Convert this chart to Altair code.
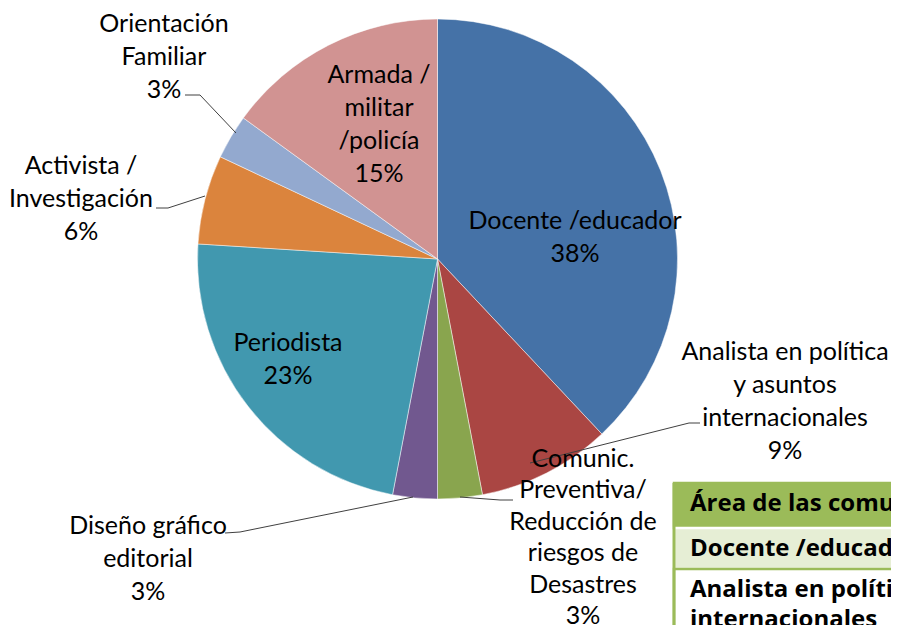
import altair as alt
import pandas as pd

# ---- data ----
categories = [
    "Docente /educador",
    "Analista en política y asuntos internacionales",
    "Comunic. Preventiva/ Reducción de riesgos de Desastres",
    "Diseño gráfico editorial",
    "Periodista",
    "Activista / Investigación",
    "Orientación Familiar",
    "Armada / militar /policía",
]
values = [38, 9, 3, 3, 23, 6, 3, 15]
label_lines = [
    ["Docente /educador"],
    ["Analista en política", "y asuntos", "internacionales"],
    ["Comunic.", "Preventiva/", "Reducción de", "riesgos de", "Desastres"],
    ["Diseño gráfico", "editorial"],
    ["Periodista"],
    ["Activista /", "Investigación"],
    ["Orientación", "Familiar"],
    ["Armada /", "militar", "/policía"],
]
colors = ["#4572A7", "#AA4643", "#89A54E", "#71588F", "#4198AF", "#DB843D", "#93A9CF", "#D19392"]

table_header = "Área de las comunicaciones"
table_rows = ["Docente /educador", "Analista en política y asuntos\ninternacionales"]

# ---- layout (pixels within the chart; page margin is 8px) ----
W, H = 883, 617
CX, CY, R = 429.5, 251, 240
label_x = [567, 777, 575, 140, 280, 73, 156, 371]
label_y = [213, 344, 451, 518, 335, 158, 16, 67]   # centre of first line
label_lh = [33, 33, 31.4, 33, 33, 33, 33, 33]
leaders = [
    [(177, 87), (192, 87), (228, 125)],
    [(148, 200), (160, 200), (197, 188)],
    [(217, 525), (232, 524), (405, 489)],
    [(505, 492), (492, 492), (452, 489)],
    [(692, 415), (681, 415), (522, 455)],
]
FONT = "Lato"
FS = 25

pie_df = pd.DataFrame({"cat": categories, "value": values, "idx": list(range(len(values)))})

lab_df = pd.DataFrame({
    "text": ["\n".join(l + [f"{v}%"]) for l, v in zip(label_lines, values)],
    "x": label_x,
    "y": label_y,
    "lh": label_lh,
})

lead_rows = []
for gi, pts in enumerate(leaders):
    for pi, (x, y) in enumerate(pts):
        lead_rows.append({"g": gi, "o": pi, "x": x, "y": y})
lead_df = pd.DataFrame(lead_rows)

pie = alt.Chart(pie_df).mark_arc(
    outerRadius=R, stroke="#ffffff", strokeWidth=0.8, strokeOpacity=0.6
).encode(
    theta=alt.Theta("value:Q", stack=True),
    color=alt.Color("cat:N", scale=alt.Scale(domain=categories, range=colors), legend=None),
    order=alt.Order("idx:Q"),
    x=alt.value(CX),
    y=alt.value(CY),
)

def label_layer(lh):
    return alt.Chart(lab_df).transform_filter(alt.datum.lh == lh).mark_text(
        font=FONT, fontSize=FS, lineHeight=lh, lineBreak="\n", align="center",
        baseline="middle", color="#000000"
    ).encode(
        x=alt.X("x:Q", scale=None),
        y=alt.Y("y:Q", scale=None),
        text="text:N",
    )

labels = [label_layer(v) for v in sorted(set(label_lh))]

lead = alt.Chart(lead_df).mark_line(color="#404040", strokeWidth=1).encode(
    x=alt.X("x:Q", scale=None),
    y=alt.Y("y:Q", scale=None),
    detail="g:N",
    order="o:Q",
)

# table (partially outside the view, clipped)
tbl_rects = pd.DataFrame({
    "x": [666, 666, 666],
    "x2": [905, 905, 905],
    "y": [475, 520, 561],
    "y2": [520, 561, 660],
    "fill": ["#9BBB59", "#E6EED5", "#FFFFFF"],
    "stroke": ["#9BBB59", "#FFFFFF", "#9BBB59"],
})
tbl = alt.Chart(tbl_rects).mark_rect(strokeWidth=2.5, clip=True).encode(
    x=alt.X("x:Q", scale=None), x2="x2:Q",
    y=alt.Y("y:Q", scale=None), y2="y2:Q",
    fill=alt.Fill("fill:N", scale=None),
    stroke=alt.Stroke("stroke:N", scale=None),
)
tbl_border = alt.Chart(pd.DataFrame({"x": [666], "y": [475], "y2": [660]})).mark_rule(
    color="#9BBB59", strokeWidth=3, clip=True
).encode(
    x=alt.X("x:Q", scale=None),
    y=alt.Y("y:Q", scale=None), y2="y2:Q",
)
tbl_text_df = pd.DataFrame({
    "text": [table_header] + table_rows,
    "x": [682, 682, 682],
    "y": [496, 541, 582],
})
tbl_text = alt.Chart(tbl_text_df).mark_text(
    font="Open Sans", fontSize=24, fontWeight="bold", lineHeight=30, lineBreak="\n",
    align="left", baseline="middle", color="#000000", clip=True
).encode(
    x=alt.X("x:Q", scale=None),
    y=alt.Y("y:Q", scale=None),
    text="text:N",
)

chart = alt.layer(pie, lead, *labels, tbl, tbl_border, tbl_text).properties(
    width=W, height=H, autosize=alt.AutoSizeParams(type="none"), padding=0,
    background="#ffffff",
).configure_view(stroke=None)

chart.save("out.html", embed_options={"renderer": "svg", "actions": False})
